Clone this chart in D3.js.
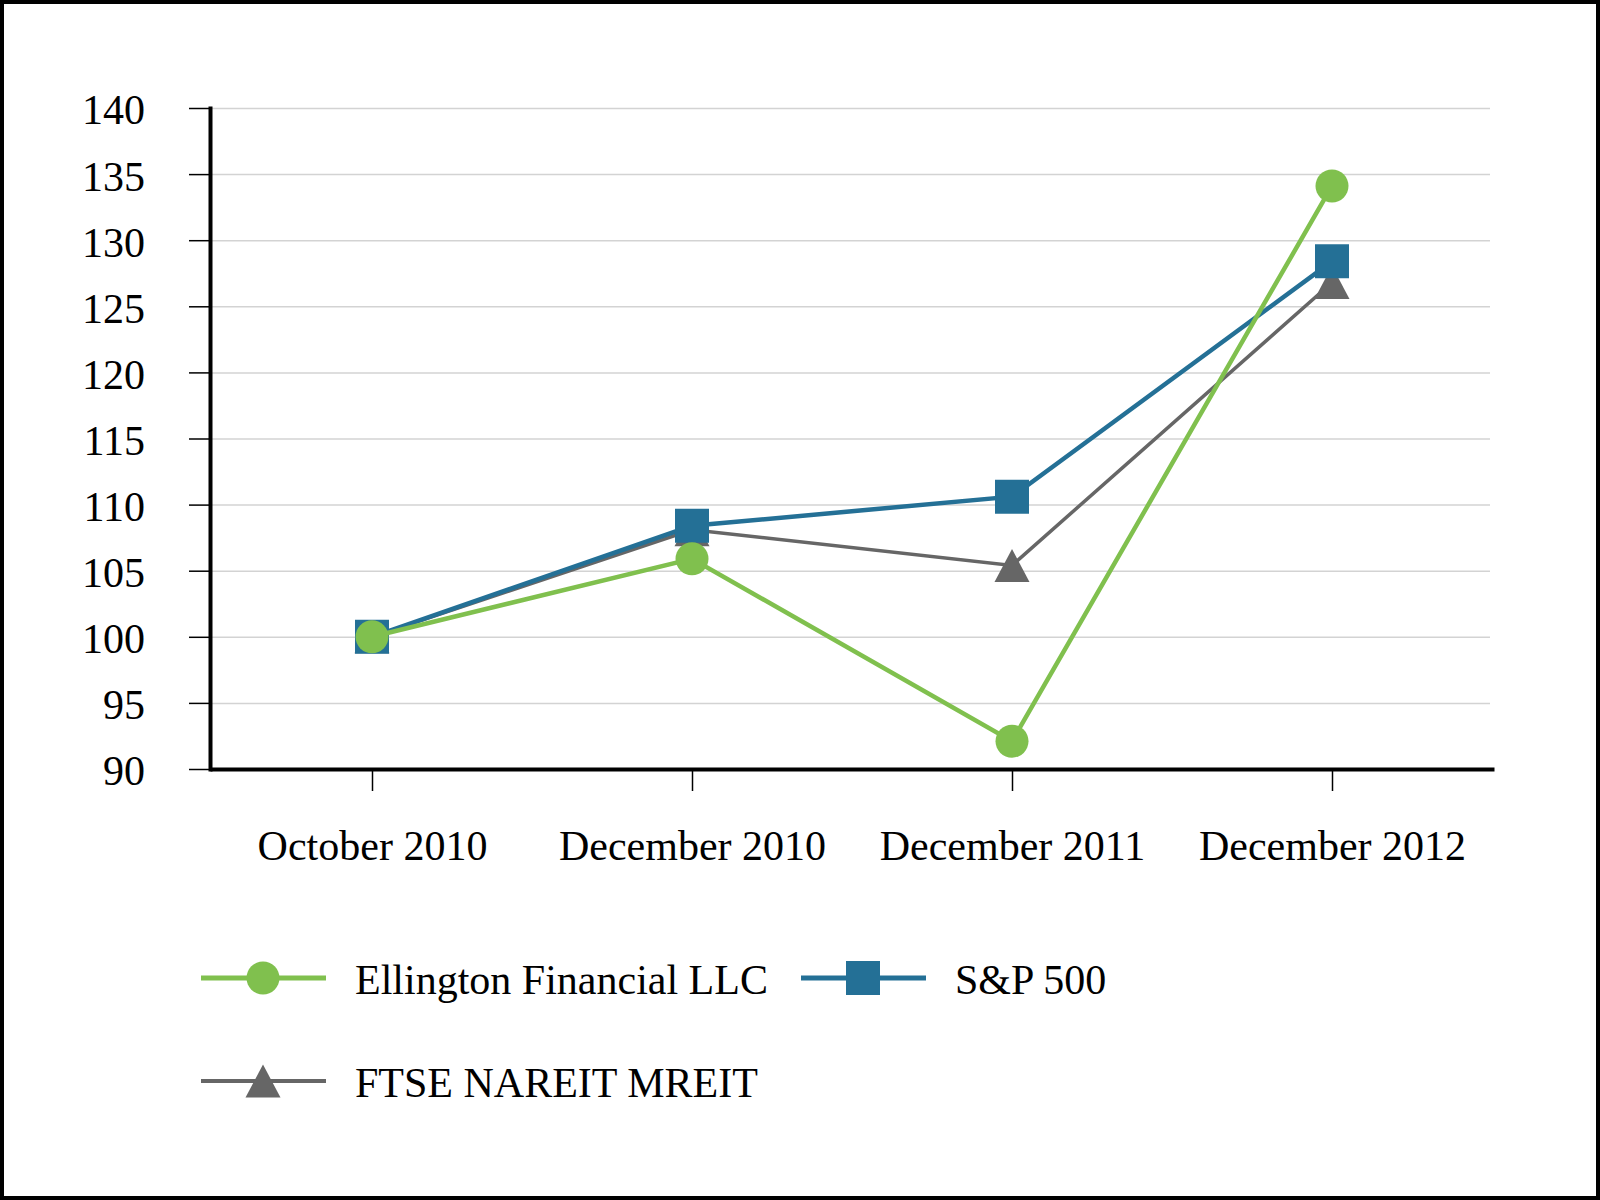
<!DOCTYPE html>
<html>
<head>
<meta charset="utf-8">
<script src="https://cdn.jsdelivr.net/npm/d3@7"></script>
<style>
  body { margin: 0; background: #fff; }
  text { font-family: "Liberation Serif", "Times New Roman", serif; fill: #000; }
</style>
</head>
<body>
<div id="chart"></div>
<script>
// values
const periods = ['October 2010', 'December 2010', 'December 2011', 'December 2012'];
const ellington = [100, 105.9, 92.1, 134.1];
const sp500 = [100, 108.4, 110.6, 128.4];
const ftse = [100, 108.1, 105.4, 126.8];
const yTicks = [90, 95, 100, 105, 110, 115, 120, 125, 130, 135, 140];
const seriesNames = ['Ellington Financial LLC', 'S&P 500', 'FTSE NAREIT MREIT'];

const width = 1600, height = 1200;
const fontSize = 42;

// triangle marker with its box centred on the point
const triangle = {
  draw(context, size) {
    const h = Math.sqrt(size) / 2;
    context.moveTo(0, -h);
    context.lineTo(h * 1.06, h);
    context.lineTo(-h * 1.06, h);
    context.closePath();
  }
};

const series = [
  {name: seriesNames[2], values: ftse, color: '#666666', width: 3.5, symbol: triangle, size: 33 * 33},
  {name: seriesNames[1], values: sp500, color: '#247096', width: 4.5, symbol: d3.symbolSquare, size: 34 * 34},
  {name: seriesNames[0], values: ellington, color: '#80c04e', width: 4.5, symbol: d3.symbolCircle, size: Math.PI * 16.5 * 16.5}
];

const svg = d3.select('#chart').append('svg')
    .attr('width', width)
    .attr('height', height);

// outer frame
svg.append('rect')
    .attr('x', 2).attr('y', 2)
    .attr('width', width - 4).attr('height', height - 4)
    .attr('fill', '#fff')
    .attr('stroke', '#000')
    .attr('stroke-width', 4);

const x = d3.scalePoint()
    .domain(periods)
    .range([212, 1492])
    .padding(0.5);

const y = d3.scaleLinear()
    .domain([90, 140])
    .range([769, 108]);

// gridlines
svg.append('g')
    .attr('transform', 'translate(212,0)')
    .call(d3.axisLeft(y).tickValues(yTicks.slice(1)).tickSize(-1278).tickFormat(''))
    .call(g => g.select('.domain').remove())
    .call(g => g.selectAll('line').attr('stroke', '#d3d3d3').attr('stroke-width', 1.5));

// y axis
svg.append('g')
    .attr('transform', 'translate(210,0)')
    .call(d3.axisLeft(y).tickValues(yTicks).tickSize(21).tickSizeOuter(0).tickPadding(44))
    .call(g => g.select('.domain').attr('stroke-width', 4).attr('stroke-linecap', 'square'))
    .call(g => g.selectAll('.tick line').attr('stroke-width', 1.5))
    .call(g => g.selectAll('text')
        .attr('font-size', fontSize)
        .attr('font-family', '"Liberation Serif", "Times New Roman", serif')
        .attr('dy', '0.38em'));

// x axis
svg.append('g')
    .attr('transform', 'translate(0,769)')
    .call(d3.axisBottom(x).tickSize(22).tickSizeOuter(0))
    .call(g => g.select('.domain').attr('stroke-width', 4).attr('stroke-linecap', 'square'))
    .call(g => g.selectAll('.tick line').attr('stroke-width', 1.5))
    .call(g => g.selectAll('text')
        .attr('font-size', fontSize)
        .attr('font-family', '"Liberation Serif", "Times New Roman", serif')
        .attr('y', 91)
        .attr('dy', 0));

const line = d3.line()
    .x((d, i) => x(periods[i]))
    .y(d => y(d));

series.forEach(s => {
  const g = svg.append('g');
  g.append('path')
      .datum(s.values)
      .attr('d', line)
      .attr('fill', 'none')
      .attr('stroke', s.color)
      .attr('stroke-width', s.width);
  g.selectAll('path.marker')
      .data(s.values)
      .enter().append('path')
      .attr('class', 'marker')
      .attr('transform', (d, i) => `translate(${x(periods[i])},${y(d)})`)
      .attr('d', d3.symbol().type(s.symbol).size(s.size))
      .attr('fill', s.color);
});

// legend
const legendItems = [
  {s: series[2], lx: 201, ly: 978},
  {s: series[1], lx: 801, ly: 978},
  {s: series[0], lx: 201, ly: 1081}
];

legendItems.forEach(item => {
  const g = svg.append('g').attr('transform', `translate(${item.lx},${item.ly})`);
  g.append('line')
      .attr('x1', 0).attr('x2', 125)
      .attr('stroke', item.s.color)
      .attr('stroke-width', item.s.width + 0.5);
  g.append('path')
      .attr('transform', 'translate(62,0)')
      .attr('d', d3.symbol().type(item.s.symbol).size(item.s.size))
      .attr('fill', item.s.color);
  g.append('text')
      .attr('x', 154)
      .attr('y', 16)
      .attr('font-size', fontSize)
      .text(item.s.name);
});
</script>
</body>
</html>
